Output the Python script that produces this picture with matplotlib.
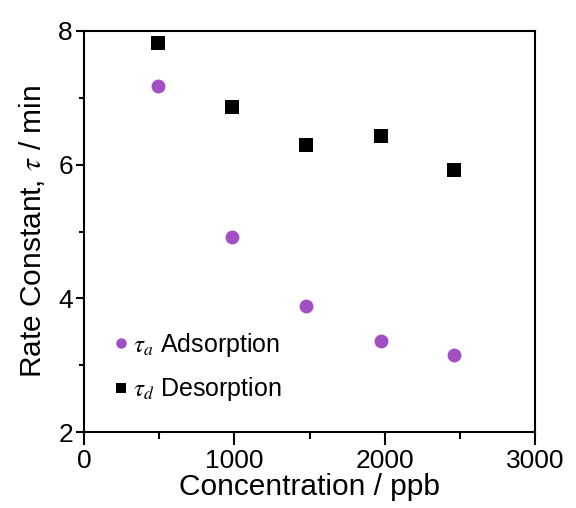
import matplotlib
matplotlib.use("Agg")
import matplotlib.pyplot as plt
from matplotlib.ticker import MultipleLocator

# ---------- data ----------
conc_ads = [495, 985, 1480, 1975, 2460]
tau_ads = [7.18, 4.92, 3.88, 3.36, 3.15]

conc_des = [495, 985, 1480, 1975, 2460]
tau_des = [7.82, 6.86, 6.29, 6.43, 5.92]

plt.rcParams['font.family'] = ['Liberation Sans', 'DejaVu Sans']
plt.rcParams['mathtext.fontset'] = 'stix'

fig = plt.figure(figsize=(5.76, 5.08), dpi=100)
ax = fig.add_axes([84 / 576, 76 / 508, 451 / 576, 401 / 508])

ax.plot(conc_ads, tau_ads, 'o', color='#A24FC6', markersize=10, markeredgewidth=0,
        label=r'$\tau_a$ Adsorption')
ax.plot(conc_des, tau_des, 's', color='black', markersize=9.5, markeredgewidth=0,
        label=r'$\tau_d$ Desorption')

ax.set_xlim(0, 3000)
ax.set_ylim(2, 8)
ax.xaxis.set_major_locator(MultipleLocator(1000))
ax.xaxis.set_minor_locator(MultipleLocator(500))
ax.yaxis.set_major_locator(MultipleLocator(2))
ax.yaxis.set_minor_locator(MultipleLocator(1))

ax.tick_params(which='major', direction='out', length=6, width=1.5, labelsize=19, pad=2)
ax.tick_params(which='minor', direction='out', length=3.5, width=1.5)
ax.tick_params(axis='x', which='major', length=9, pad=3)
ax.tick_params(axis='x', which='minor', length=5)
for s in ax.spines.values():
    s.set_linewidth(1.5)

ax.set_xlabel('Concentration / ppb', fontsize=21.5, labelpad=0)
ax.set_ylabel(r'Rate Constant, $\tau$ / min', fontsize=21.5, labelpad=8)

ax.legend(loc='lower left', bbox_to_anchor=(0.015, 0.015), frameon=False, fontsize=18,
          markerscale=0.75, handlelength=0.6, handletextpad=0.2, labelspacing=0.65)

fig.savefig('out.png', dpi=100)
